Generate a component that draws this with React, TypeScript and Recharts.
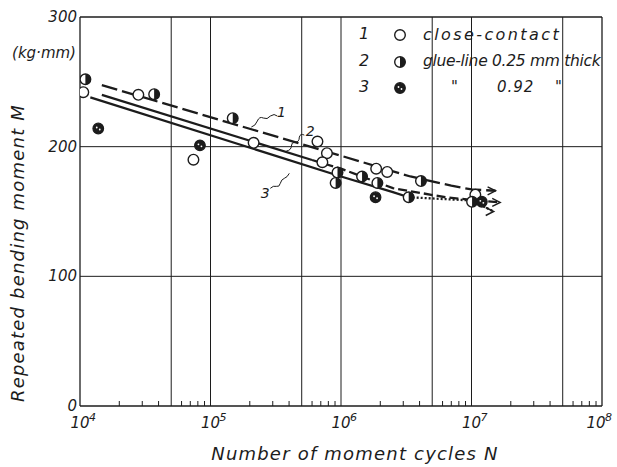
import React from 'react';
import { ComposedChart, Line, Scatter, XAxis, YAxis, ReferenceLine, Label } from 'recharts';

const FONT = '"DejaVu Sans", "Liberation Sans", sans-serif';
const INK = '#1c1c1c';

// axis ticks
const decades = [1e4, 1e5, 1e6, 1e7, 1e8];
const minorSteps = [2, 3, 4, 6, 7, 8, 9];
const gridN = [5e4, 1e5, 5e5, 1e6, 5e6, 1e7, 5e7];
const gridM = [100, 200];
const yTicks = [0, 100, 200, 300];

// test points (N cycles, M kg-mm)
const closeContact = [
  { N: 1.06e4, M: 242 },
  { N: 2.8e4, M: 240 },
  { N: 7.4e4, M: 190 },
  { N: 2.14e5, M: 203 },
  { N: 6.6e5, M: 204 },
  { N: 7.8e5, M: 195 },
  { N: 7.2e5, M: 188 },
  { N: 1.86e6, M: 183 },
  { N: 2.26e6, M: 180.5 },
  { N: 1.07e7, M: 163 },
];
const glue025 = [
  { N: 1.1e4, M: 252 },
  { N: 3.7e4, M: 240.5 },
  { N: 1.48e5, M: 222 },
  { N: 9.4e5, M: 180 },
  { N: 9.1e5, M: 172 },
  { N: 1.45e6, M: 177 },
  { N: 1.9e6, M: 172 },
  { N: 4.1e6, M: 173.5 },
  { N: 3.3e6, M: 161 },
  { N: 1.01e7, M: 157.5 },
];
const glue092 = [
  { N: 1.38e4, M: 214 },
  { N: 8.3e4, M: 201 },
  { N: 1.84e6, M: 161 },
  { N: 1.2e7, M: 157.5 },
];

// fitted S-N curves
const curve1 = [
  { N: 1.47e4, M: 247.5 },
  { N: 1e6, M: 193 },
  { N: 3.4e6, M: 177 },
  { N: 7e6, M: 170 },
  { N: 1e7, M: 167 },
  { N: 1.53e7, M: 166 },
];
const curve2Solid = [
  { N: 1.47e4, M: 240 },
  { N: 6e5, M: 189.7 },
];
const curve2Dashed = [
  { N: 6e5, M: 189.7 },
  { N: 1e6, M: 183 },
  { N: 2.5e6, M: 168 },
  { N: 6.3e6, M: 161 },
  { N: 1e7, M: 159 },
  { N: 1.66e7, M: 157 },
];
const curve3Solid = [
  { N: 1.2e4, M: 238 },
  { N: 1e6, M: 177 },
  { N: 2.5e6, M: 165 },
  { N: 3.3e6, M: 161 },
];
const curve3Dotted = [
  { N: 3.3e6, M: 161 },
  { N: 1e7, M: 158.5 },
  { N: 1.48e7, M: 150 },
];

// curve number labels
const curveLabels = [
  { N: 3.49e5, M: 226.7, text: '1' },
  { N: 5.82e5, M: 212, text: '2' },
  { N: 2.63e5, M: 164, text: '3' },
];
const leaderPaths: Record<string, string> = {
  '1': 'M -4 4 q -3 -3 -7 0 q -3 4 -7 2 q -4 -2 -6 3 q -2 5 -6 6',
  '2': 'M -6 4 q -4 -2 -5 2 q 0 5 -4 5 q -4 0 -4 4 q 0 4 -5 5',
  '3': 'M 5 -5 q 3 -3 6 -2 q 3 1 4 -3 q 1 -4 4 -5 q 3 -1 5 -5',
};

const xTicks = decades.flatMap((d, i) =>
  i < decades.length - 1 ? [d, ...minorSteps.map((s) => s * d)] : [d]
);

const textStyle = { fontFamily: FONT, fontStyle: 'italic' as const, fill: INK };

const OpenDot = ({ cx, cy }: any) => (
  <circle cx={cx} cy={cy} r={5.3} fill="#fff" stroke={INK} strokeWidth={1.4} />
);
const HalfDot = ({ cx, cy }: any) => (
  <g>
    <circle cx={cx} cy={cy} r={5.3} fill="#fff" stroke={INK} strokeWidth={1.4} />
    <path d={`M ${cx} ${cy - 5.3} A 5.3 5.3 0 0 1 ${cx} ${cy + 5.3} Z`} fill={INK} />
  </g>
);
const DarkDot = ({ cx, cy }: any) => (
  <g>
    <circle cx={cx} cy={cy} r={5.3} fill={INK} stroke={INK} strokeWidth={1.2} />
    <circle cx={cx - 1.5} cy={cy - 1} r={0.9} fill="#fff" />
    <circle cx={cx + 1.5} cy={cy + 1} r={0.9} fill="#fff" />
  </g>
);

const arrowDot = (len: number) => (props: any) => {
  const { cx, cy, index } = props;
  if (index !== len - 1) return <g key={`a${index}`} />;
  return (
    <path
      key={`a${index}`}
      d={`M ${cx - 8} ${cy - 4} L ${cx} ${cy} L ${cx - 8} ${cy + 4}`}
      fill="none"
      stroke={INK}
      strokeWidth={1.4}
    />
  );
};

const CurveLabel = ({ cx, cy, payload }: any) => (
  <g>
    <text x={cx} y={cy} textAnchor="middle" dominantBaseline="central" fontSize={14} {...textStyle}>
      {payload.text}
    </text>
    <path d={leaderPaths[payload.text]} transform={`translate(${cx},${cy})`} fill="none" stroke={INK} strokeWidth={1} />
  </g>
);

const XTick = ({ x, y, payload }: any) => {
  const v = payload.value;
  const exp = Math.round(Math.log10(v));
  if (Math.abs(v - Math.pow(10, exp)) < 1e-6 * v) {
    const sx = exp === 8 ? x - 6 : x;
    return (
      <g>
        <text x={sx} y={y + 22} textAnchor="middle" fontSize={15} {...textStyle}>10</text>
        <text x={sx + 9} y={y + 15} textAnchor="start" fontSize={11} {...textStyle}>{exp}</text>
      </g>
    );
  }
  const lead = Math.round(v / Math.pow(10, Math.floor(Math.log10(v))));
  if (lead === 5) return <g />;
  return <line x1={x} y1={y} x2={x} y2={y - 5} stroke={INK} strokeWidth={1} />;
};

const YTick = ({ x, y, payload }: any) => (
  <text x={x - 3} y={y} textAnchor="end" dominantBaseline="central" fontSize={15} {...textStyle}>
    {payload.value}
  </text>
);

const legendRows = [
  { num: '1', Dot: OpenDot, text: 'close-contact', size: 16, spacing: 2.4 },
  { num: '2', Dot: HalfDot, text: 'glue-line 0.25 mm thick', size: 15.5, spacing: -0.3 },
  { num: '3', Dot: DarkDot, text: '', size: 15, spacing: 1 },
];

const ChartLegend = () => (
  <div
    style={{
      position: 'absolute',
      left: 355,
      top: 22,
      width: 247,
      height: 80,
      overflow: 'hidden',
      fontFamily: FONT,
      fontStyle: 'italic',
      color: INK,
    }}
  >
    {legendRows.map((r) => (
      <div key={r.num} style={{ position: 'relative', height: 26.5, whiteSpace: 'nowrap', fontSize: r.size }}>
        <span style={{ position: 'absolute', left: 4, top: 2, fontSize: 16 }}>{r.num}</span>
        <svg style={{ position: 'absolute', left: 38, top: 6 }} width={14} height={14}>
          <r.Dot cx={7} cy={7} />
        </svg>
        {r.text ? (
          <span style={{ position: 'absolute', left: 68, top: 3, letterSpacing: r.spacing }}>{r.text}</span>
        ) : (
          <>
            <span style={{ position: 'absolute', left: 96, top: 3 }}>"</span>
            <span style={{ position: 'absolute', left: 142, top: 3, letterSpacing: 1 }}>0.92</span>
            <span style={{ position: 'absolute', left: 200, top: 3 }}>"</span>
          </>
        )}
      </div>
    ))}
  </div>
);

const YTitle = () => (
  <g>
    <text
      x={24}
      y={253}
      transform="rotate(-90 24 253)"
      textAnchor="middle"
      fontSize={18}
      letterSpacing={1.2}
      {...textStyle}
    >
      Repeated bending moment M
    </text>
    <text x={44} y={58} textAnchor="middle" fontSize={15} {...textStyle}>
      (kg·mm)
    </text>
  </g>
);

const XTitle = () => (
  <text x={355} y={460} textAnchor="middle" fontSize={18} letterSpacing={1.2} {...textStyle}>
    Number of moment cycles  N
  </text>
);

export default function App() {
  return (
    <div style={{ position: 'absolute', left: 0, top: 0, width: 617, height: 467, background: '#fff' }}>
      <ComposedChart width={617} height={467} margin={{ top: 17, right: 15, left: 0, bottom: 0 }}>
        <XAxis
          dataKey="N"
          type="number"
          scale="log"
          domain={[1e4, 1e8]}
          ticks={xTicks}
          interval={0}
          allowDataOverflow
          height={61}
          tickSize={0}
          tickMargin={0}
          tick={<XTick />}
          axisLine={{ stroke: INK, strokeWidth: 1.3 }}
        >
          <Label content={<XTitle />} />
        </XAxis>
        <YAxis
          dataKey="M"
          type="number"
          domain={[0, 300]}
          ticks={yTicks}
          width={80}
          tickSize={0}
          tickMargin={0}
          tick={<YTick />}
          axisLine={{ stroke: INK, strokeWidth: 1.3 }}
        >
          <Label content={<YTitle />} />
        </YAxis>
        {gridN.map((n) => (
          <ReferenceLine key={`gx${n}`} x={n} stroke={INK} strokeWidth={1} />
        ))}
        {gridM.map((m) => (
          <ReferenceLine key={`gy${m}`} y={m} stroke={INK} strokeWidth={1} />
        ))}
        <ReferenceLine y={300} stroke={INK} strokeWidth={1.3} />
        <ReferenceLine x={1e8} stroke={INK} strokeWidth={1.3} />

        <Line data={curve1} dataKey="M" stroke={INK} strokeWidth={2.3} strokeDasharray="16 5" dot={arrowDot(curve1.length)} isAnimationActive={false} />
        <Line data={curve2Solid} dataKey="M" stroke={INK} strokeWidth={2.3} dot={false} isAnimationActive={false} />
        <Line data={curve2Dashed} dataKey="M" stroke={INK} strokeWidth={2.3} strokeDasharray="9 4" dot={arrowDot(curve2Dashed.length)} isAnimationActive={false} />
        <Line data={curve3Solid} dataKey="M" stroke={INK} strokeWidth={2.3} dot={false} isAnimationActive={false} />
        <Line data={curve3Dotted} dataKey="M" stroke={INK} strokeWidth={2.3} strokeDasharray="2 2" dot={arrowDot(curve3Dotted.length)} isAnimationActive={false} />

        <Scatter data={closeContact} dataKey="M" shape={<OpenDot />} isAnimationActive={false} />
        <Scatter data={glue025} dataKey="M" shape={<HalfDot />} isAnimationActive={false} />
        <Scatter data={glue092} dataKey="M" shape={<DarkDot />} isAnimationActive={false} />
        <Scatter data={curveLabels} dataKey="M" shape={<CurveLabel />} isAnimationActive={false} />
      </ComposedChart>
      <ChartLegend />
    </div>
  );
}
